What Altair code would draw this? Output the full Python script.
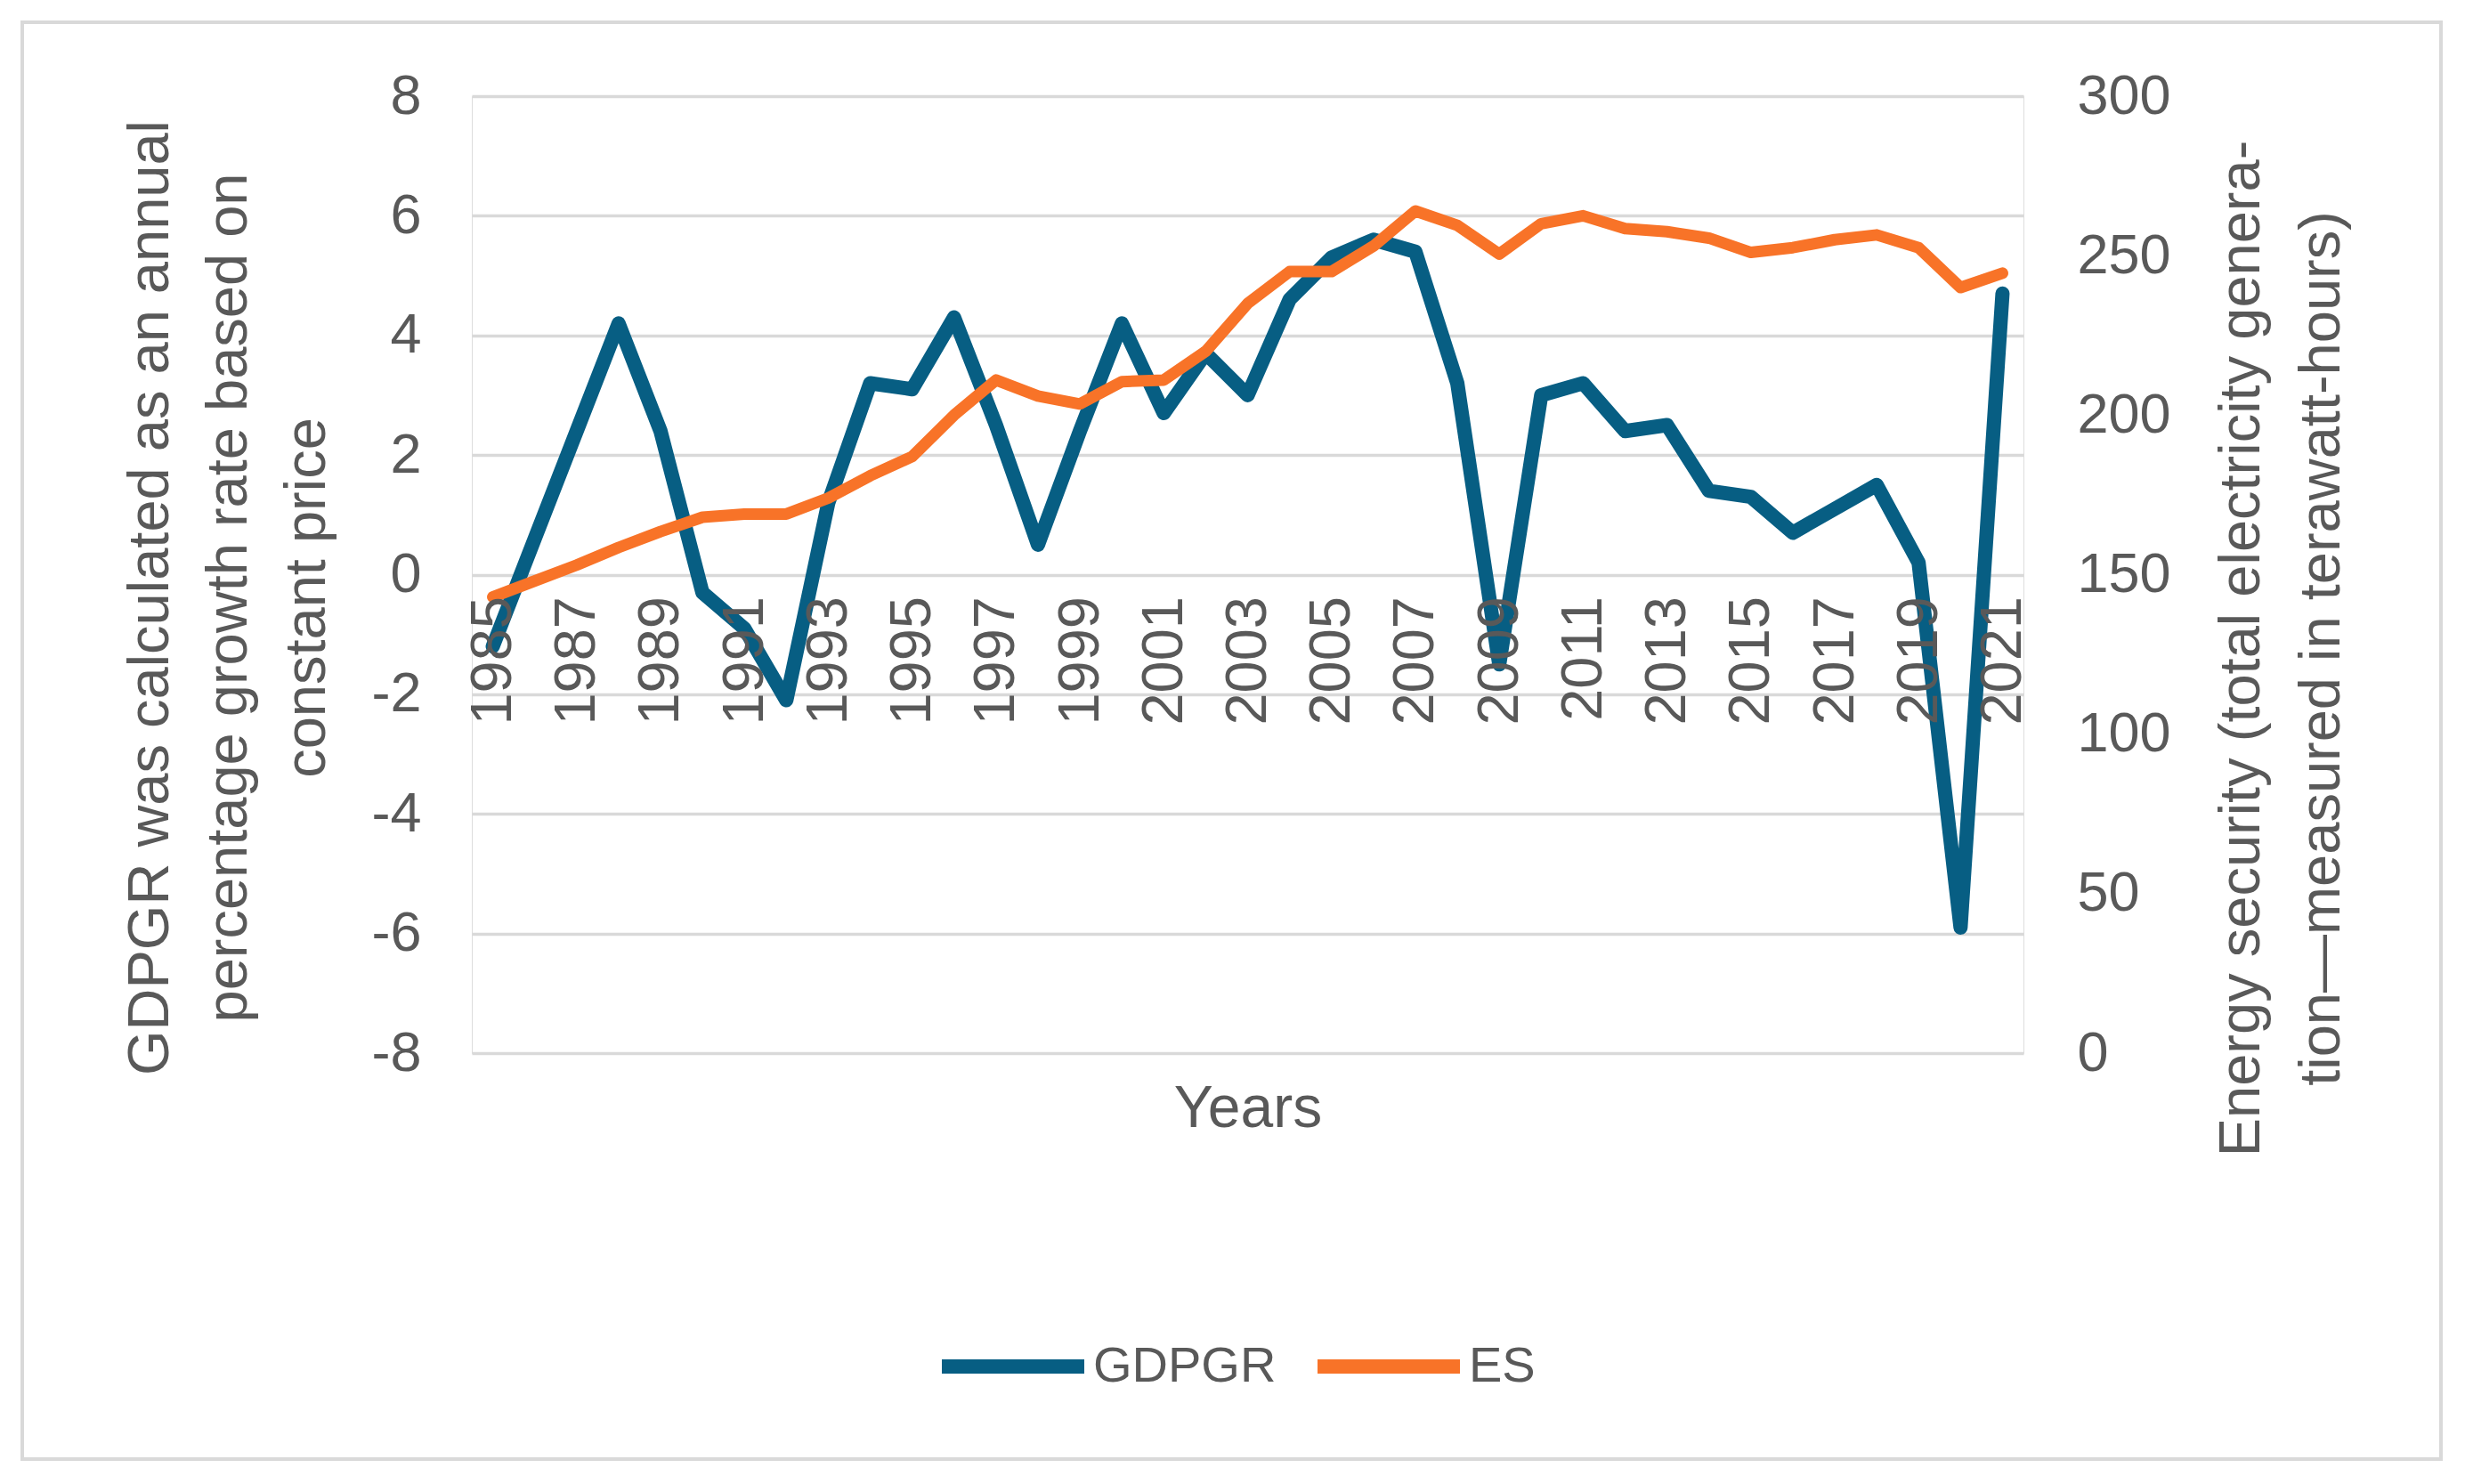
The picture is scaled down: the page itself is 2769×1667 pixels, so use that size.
import altair as alt
import pandas as pd

years = [str(y) for y in range(1985, 2022)]
gdpgr = [-1.2, 0.6, 2.4, 4.2, 2.4, -0.3, -0.9, -2.1, 1.2, 3.2,
         3.1, 4.3, 2.5, 0.5, 2.4, 4.2, 2.7, 3.7, 3.0, 4.6,
         5.3, 5.6, 5.4, 3.2, -1.5, 3.0, 3.2, 2.4, 2.5, 1.4,
         1.3, 0.7, 1.1, 1.5, 0.2, -5.9, 4.7]
es = [143, 148, 153, 158.5, 163.5, 168, 169, 169, 174, 181,
      187, 200, 211, 206, 203.5, 210.5, 211, 220, 235, 245,
      245, 253, 264, 259.5, 250.5, 260, 262.5, 258.5, 257.5, 255.5,
      251, 252.5, 255, 256.5, 252.5, 240, 244.5]
series_names = ["GDPGR", "ES"]
series_colors = ["#075E83", "#F87328"]
left_ticks = [-8, -6, -4, -2, 0, 2, 4, 6, 8]
right_ticks = [0, 50, 100, 150, 200, 250, 300]
x_label_years = [str(y) for y in range(1985, 2022, 2)]
left_title = ["GDPGR was calculated as an annual",
              "percentage growth rate based on",
              "constant price"]
right_title = ["Energy security (total electricity genera-",
               "tion\u2014measured in terawatt-hours)"]

FONT = "Liberation Sans"
GREY = "#595959"

df_g = pd.DataFrame({"Year": years, "Value": gdpgr, "Series": "GDPGR"})
df_e = pd.DataFrame({"Year": years, "Value": es, "Series": "ES"})

x_axis = alt.Axis(values=x_label_years, labelAngle=270, labelPadding=24,
                  ticks=False, tickSize=0, domain=False, grid=False,
                  offset=-537.5, title="Years", titleX=871.5, titleY=599.5,
                  titleBaseline="middle", titleAlign="center", zindex=1,
                  labelFont=FONT, labelFontSize=65, labelColor=GREY,
                  labelOverlap=False, labelFlush=False,
                  titleFont=FONT, titleFontSize=66, titleColor=GREY,
                  titleFontWeight="normal")
x_enc = alt.X("Year:O", scale=alt.Scale(type="point", padding=0.5), axis=x_axis)

color_enc = alt.Color(
    "Series:N",
    scale=alt.Scale(domain=series_names, range=series_colors),
    legend=alt.Legend(orient="none", legendX=520, legendY=1339,
                      direction="horizontal", title=None,
                      symbolType="stroke", symbolSize=25600,
                      symbolStrokeWidth=16, labelFont=FONT,
                      labelFontSize=56, labelColor=GREY, labelOffset=2,
                      columnPadding=14, labelLimit=1000, padding=0),
)

g_line = alt.Chart(df_g).mark_line(strokeWidth=16, strokeJoin="round", strokeCap="round").encode(
    x=x_enc,
    y=alt.Y("Value:Q",
            scale=alt.Scale(domain=[-8, 8], nice=False, zero=False),
            axis=alt.Axis(title=left_title, values=left_ticks, grid=True,
                          gridColor="#D9D9D9", gridWidth=3.5, domain=False,
                          ticks=False, labelPadding=57, labelFont=FONT,
                          labelFontSize=63, labelColor=GREY,
                          labelExpr="datum.value + ''",
                          titleFont=FONT, titleFontSize=65, titleColor=GREY,
                          titleFontWeight="normal", titleAngle=270,
                          titleBaseline="middle", titleAlign="center",
                          titleX=-362, titleY=563, titleLineHeight=88)),
    color=color_enc,
)

e_line = alt.Chart(df_e).mark_line(strokeWidth=13, strokeJoin="round", strokeCap="round").encode(
    x=x_enc,
    y=alt.Y("Value:Q",
            scale=alt.Scale(domain=[0, 300], nice=False),
            axis=alt.Axis(orient="right", title=right_title, values=right_ticks,
                          grid=False, domain=False, ticks=False,
                          labelPadding=60, labelFont=FONT, labelFontSize=63,
                          labelColor=GREY, titleFont=FONT, titleFontSize=65,
                          titleColor=GREY, titleFontWeight="normal",
                          titleAngle=270, titleBaseline="middle",
                          titleAlign="center", titleX=244, titleY=620,
                          titleLineHeight=90)),
    color=color_enc,
)

frame = alt.Chart(pd.DataFrame({"f": [0]})).mark_rect(
    fillOpacity=0, stroke="#D9D9D9", strokeWidth=4
).encode(x=alt.value(-505), x2=alt.value(2212), y=alt.value(-83), y2=alt.value(1531))

chart = alt.layer(g_line, e_line, frame).resolve_scale(y="independent").properties(
    width=1743, height=1075,
    padding={"left": 522, "top": 100, "right": 480, "bottom": 470},
    autosize=alt.AutoSizeParams(type="none"),
).configure_view(strokeWidth=0).configure(background="white")

chart.save("out.html", embed_options={"renderer": "svg", "actions": False})
